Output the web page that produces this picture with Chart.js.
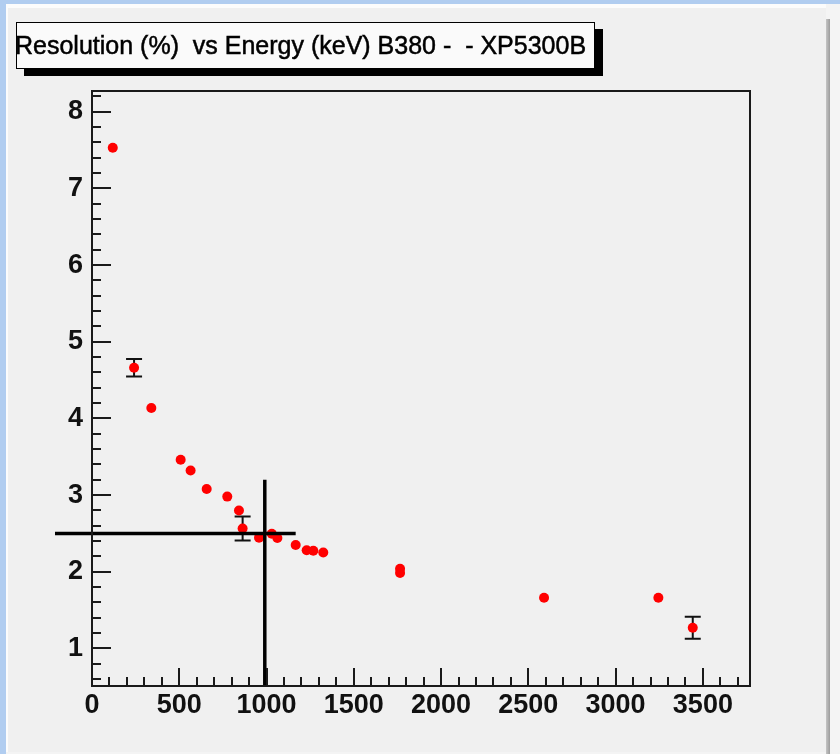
<!DOCTYPE html>
<html><head><meta charset="utf-8">
<script src="https://cdn.jsdelivr.net/npm/chart.js@4"></script>
<style>
html,body{margin:0;padding:0;width:840px;height:754px;overflow:hidden;background:#f4f4f4;}
#blueTop{position:absolute;left:0;top:0;width:840px;height:4px;background:#b1cdf0;}
#blueLeft{position:absolute;left:0;top:0;width:6px;height:754px;background:#b1cdf0;}
#panel{position:absolute;left:6px;top:4px;width:818px;height:744px;background:#f0f0f0;border-top:4px solid #fcfcfc;border-left:2px solid #fcfcfc;}
#shadow{position:absolute;left:826px;top:19px;width:4px;height:735px;background:linear-gradient(to right,#c4c4c4,#9c9c9c);}
#c{position:absolute;left:0;top:0;}
#titleBox{position:absolute;left:16px;top:22px;width:577px;height:45px;border:1px solid #000;background:#fafafa;box-shadow:8px 7px 0 0 #000;}
#titleText{position:absolute;left:15px;top:33px;font-family:"Liberation Sans",Arial,sans-serif;font-size:25px;line-height:25px;white-space:pre;color:#000;-webkit-text-stroke:0.5px #000;}
</style></head>
<body>
<div id="blueTop"></div><div id="blueLeft"></div>
<div id="panel"></div><div id="shadow"></div>
<canvas id="c" width="840" height="754"></canvas>
<div id="titleBox"></div>
<div id="titleText">Resolution (%)  vs Energy (keV) B380 -  - XP5300B</div>
<script>
// ---- data ----
const energy     = [119, 241, 340, 508, 565, 657, 775, 842, 863, 957, 1030, 1062, 1167, 1230, 1268, 1325, 1765, 1765, 2590, 3245, 3442];
const resolution = [7.53, 4.66, 4.135, 3.46, 3.32, 3.08, 2.98, 2.80, 2.565, 2.445, 2.495, 2.44, 2.35, 2.28, 2.275, 2.25, 2.04, 1.985, 1.66, 1.66, 1.27];
const resErr     = [0, 0.115, 0, 0, 0, 0, 0, 0, 0.157, 0, 0, 0, 0, 0, 0, 0, 0, 0, 0, 0, 0.143];
const xTicks = [0, 500, 1000, 1500, 2000, 2500, 3000, 3500];
const yTicks = [1, 2, 3, 4, 5, 6, 7, 8];
const crossHx = [-212, 1167];
const crossHy = [2.5, 2.5];
const crossVx = [990, 990];
const crossVy = [0.51, 3.2];
const xRange = [0, 3770];
const yRange = [0.51, 8.27];

const FONT = '"Liberation Sans", Arial, sans-serif';

const decorPlugin = {
  id: 'decor',
  beforeDatasetsDraw(chart) {
    const c = chart.ctx, xs = chart.scales.x, ys = chart.scales.y;
    c.save();
    c.strokeStyle = '#111';
    c.lineWidth = 2;
    energy.forEach((e, i) => {
      const d = resErr[i];
      if (!d) return;
      const px = xs.getPixelForValue(e);
      const top = ys.getPixelForValue(resolution[i] + d);
      const bot = ys.getPixelForValue(resolution[i] - d);
      c.beginPath();
      c.moveTo(px, top); c.lineTo(px, bot);
      c.moveTo(px - 8, top); c.lineTo(px + 8, top);
      c.moveTo(px - 8, bot); c.lineTo(px + 8, bot);
      c.stroke();
    });
    c.restore();
  },
  afterDatasetsDraw(chart) {
    const c = chart.ctx, a = chart.chartArea, xs = chart.scales.x, ys = chart.scales.y;
    c.save();
    c.strokeStyle = '#1a1a1a';
    c.lineWidth = 2;
    c.strokeRect(a.left, a.top, a.right - a.left, a.bottom - a.top);
    c.beginPath();
    for (let v = 0; v <= xRange[1]; v += 100) {
      const px = Math.round(xs.getPixelForValue(v));
      if (px <= a.left + 1 || px >= a.right - 1) continue;
      const len = (v % 500 === 0) ? 18 : 9;
      c.moveTo(px, a.bottom); c.lineTo(px, a.bottom - len);
    }
    for (let k = Math.ceil(yRange[0] * 5); k <= yRange[1] * 5; k++) {
      const v = k / 5;
      const py = Math.round(ys.getPixelForValue(v));
      if (py >= a.bottom - 1 || py <= a.top + 1) continue;
      const len = (k % 5 === 0) ? 19 : 9;
      c.moveTo(a.left, py); c.lineTo(a.left + len, py);
    }
    c.stroke();
    c.restore();
  }
};

new Chart(document.getElementById('c'), {
  type: 'scatter',
  data: {
    datasets: [
      { label: 'h', type: 'line', showLine: true, data: crossHx.map((x, i) => ({ x, y: crossHy[i] })),
        borderColor: '#000', borderWidth: 3.5, pointRadius: 0, clip: false, fill: false, order: 0 },
      { label: 'v', type: 'line', showLine: true, data: crossVx.map((x, i) => ({ x, y: crossVy[i] })),
        borderColor: '#000', borderWidth: 3.5, pointRadius: 0, clip: false, fill: false, order: 0 },
      { label: 'Resolution', data: energy.map((x, i) => ({ x, y: resolution[i] })),
        backgroundColor: '#ff0000', borderWidth: 0, pointRadius: 5, pointHoverRadius: 5, order: 1 }
    ]
  },
  options: {
    responsive: false, animation: false, devicePixelRatio: 1,
    layout: { padding: { left: 0, top: 91, right: 90, bottom: 0 } },
    plugins: { legend: { display: false }, tooltip: { enabled: false }, title: { display: false } },
    scales: {
      x: {
        type: 'linear', min: xRange[0], max: xRange[1],
        afterFit(s) { s.height = 68; },
        afterBuildTicks(s) { s.ticks = xTicks.map(v => ({ value: v })); },
        grid: { display: false, drawTicks: false }, border: { display: false },
        ticks: { font: { family: FONT, size: 27, weight: 'bold' }, color: '#111', padding: 3, maxRotation: 0, autoSkip: false,
                 callback: v => String(v) }
      },
      y: {
        type: 'linear', min: yRange[0], max: yRange[1],
        afterFit(s) { s.width = 92; },
        afterBuildTicks(s) { s.ticks = yTicks.map(v => ({ value: v })); },
        grid: { display: false, drawTicks: false }, border: { display: false },
        ticks: { font: { family: FONT, size: 27, weight: 'bold' }, color: '#111', padding: 9, autoSkip: false,
                 callback: v => String(v) }
      }
    }
  },
  plugins: [decorPlugin]
});
</script>
</body></html>
